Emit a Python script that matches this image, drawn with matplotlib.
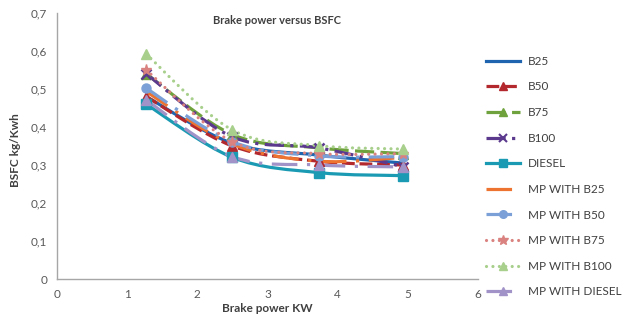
import numpy as np
import matplotlib
matplotlib.use('Agg')
import matplotlib.pyplot as plt
from matplotlib.path import Path
from matplotlib.patches import PathPatch
from matplotlib.lines import Line2D

plt.rcParams['font.family'] = ['Lato', 'DejaVu Sans']

power = [1.27, 2.5, 3.73, 4.93]
b25 = [0.48, 0.357, 0.326, 0.305]
b50 = [0.48, 0.35, 0.31, 0.30]
b75 = [0.54, 0.38, 0.345, 0.33]
b100 = [0.54, 0.374, 0.345, 0.296]
diesel = [0.46, 0.32, 0.28, 0.272]
mp_b25 = [0.493, 0.355, 0.31, 0.32]
mp_b50 = [0.502, 0.361, 0.324, 0.322]
mp_b75 = [0.55, 0.361, 0.33, 0.33]
mp_b100 = [0.592, 0.392, 0.351, 0.342]
mp_diesel = [0.471, 0.322, 0.30, 0.295]

labels = ['B25', 'B50', 'B75', 'B100', 'DIESEL', 'MP WITH B25', 'MP WITH B50',
          'MP WITH B75', 'MP WITH B100', 'MP WITH DIESEL']
series = [b25, b50, b75, b100, diesel, mp_b25, mp_b50, mp_b75, mp_b100, mp_diesel]
colors = ['#1F64AE', '#B3282D', '#6FA23C', '#5B3A8E', '#1A9AB3', '#EC7430',
          '#7BA0D7', '#D9827F', '#A8D08C', '#A192C7']
dashes = [None, (4, 1.5), (6, 2), (6, 2, 1, 2), None, (8, 3, 1, 3), (8, 3, 1, 3),
          (0.01, 2), (0.01, 2), (8, 3, 1, 3)]
markers = [None, '^', '^', 'x', 's', None, 'o', '*', '^', '^']
caps = ['butt'] * 7 + ['round', 'round', 'butt']
lw = 2.3

fig = plt.figure(figsize=(6.22, 3.18), dpi=100)
ax = fig.add_axes([57/622, 1-279/318, (478-57)/622, (279-13)/318])


def smooth_path(xs, ys):
    pts = np.column_stack([xs, ys]).astype(float)
    n = len(pts)
    verts = [pts[0]]
    codes = [Path.MOVETO]
    for i in range(n - 1):
        p0 = pts[i - 1] if i > 0 else pts[i]
        p1 = pts[i]
        p2 = pts[i + 1]
        p3 = pts[i + 2] if i + 2 < n else pts[i + 1]
        c1 = p1 + (p2 - p0) / 6.0
        c2 = p2 - (p3 - p1) / 6.0
        verts += [c1, c2, p2]
        codes += [Path.CURVE4] * 3
    return Path(verts, codes)


handles = []
for lab, ys, c, d, m, cap in zip(labels, series, colors, dashes, markers, caps):
    ls = '-' if d is None else (0, d)
    patch = PathPatch(smooth_path(power, ys), facecolor='none', edgecolor=c,
                      linewidth=lw, linestyle=ls, capstyle=cap)
    ax.add_patch(patch)
    if m is not None:
        ms = 8 if m == '*' else 6.5
        ax.plot(power, ys, linestyle='none', marker=m, color=c, markersize=ms,
                markeredgewidth=1.8 if m == 'x' else 1)
    h = Line2D([0], [0], color=c, linewidth=lw, linestyle=ls,
               marker=m, markersize=5.5 if m != '*' else 7, dash_capstyle=cap,
               markeredgewidth=1.5 if m == 'x' else 1)
    handles.append(h)

ax.set_xlim(0, 6)
ax.set_ylim(0, 0.7)
ax.set_xticks(range(0, 7))
ax.set_yticks(np.arange(0, 0.71, 0.1))
ax.set_xticklabels([str(i) for i in range(7)])
ax.set_yticklabels(['0'] + ['0,%d' % i for i in range(1, 8)])
ax.tick_params(length=0, labelsize=8.5, colors='#595959', pad=7)
for s in ['top', 'right']:
    ax.spines[s].set_visible(False)
for s in ['left', 'bottom']:
    ax.spines[s].set_color('#A6A6A6')
    ax.spines[s].set_linewidth(1)

fig.text(277/622, 1-20/318, 'Brake power versus BSFC', ha='center', va='center',
         fontsize=8, fontweight='bold', color='#404040')
fig.text(267/622, 1-308/318, 'Brake power KW', ha='center', va='center',
         fontsize=8.5, fontweight='bold', color='#404040')
fig.text(16/622, 1-150/318, 'BSFC kg/Kwh', ha='center', va='center', rotation=90,
         fontsize=8.5, fontweight='bold', color='#404040')

leg = fig.legend(handles, labels, loc='upper left', bbox_to_anchor=(481/622, 1-51/318),
                 frameon=False, fontsize=8.5, handlelength=2.9, handletextpad=0.65,
                 labelspacing=1.24, borderaxespad=0, labelcolor='#404040')

fig.savefig('out.png', dpi=100)
